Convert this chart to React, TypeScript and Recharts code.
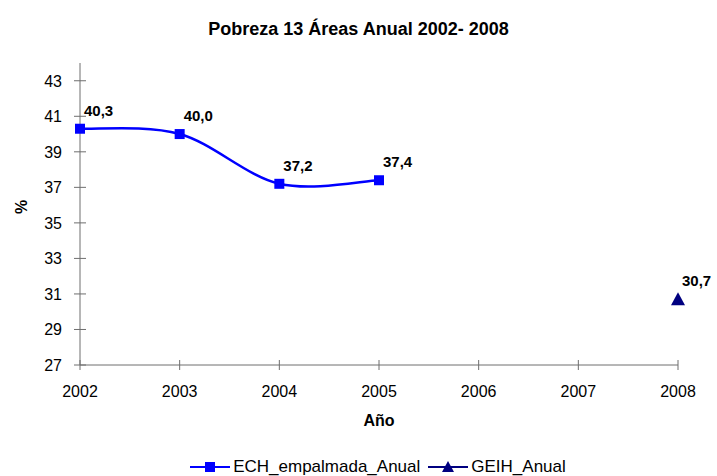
import React from 'react';
import { LineChart, Line, XAxis, YAxis, LabelList, Legend } from 'recharts';

const years = [2002, 2003, 2004, 2005, 2006, 2007, 2008];
const echValues = [40.3, 40.0, 37.2, 37.4, null, null, null];
const geihValues = [null, null, null, null, null, null, 30.7];
const yTicks = [27, 29, 31, 33, 35, 37, 39, 41, 43];

const data = years.map((y, i) => ({ year: y, ech: echValues[i], geih: geihValues[i] }));

const FONT = 'Liberation Sans, Arial, sans-serif';
const ECH_COLOR = '#0000FF';
const GEIH_COLOR = '#000080';
const AXIS_COLOR = '#6e6e6e';

// Excel-style smoothed line (Catmull-Rom through the points)
function excelCurve(context: any) {
  let pts: number[][] = [];
  return {
    areaStart() {},
    areaEnd() {},
    lineStart() {
      pts = [];
    },
    point(x: number, y: number) {
      pts.push([+x, +y]);
    },
    lineEnd() {
      if (!pts.length) return;
      context.moveTo(pts[0][0], pts[0][1]);
      for (let i = 0; i < pts.length - 1; i++) {
        const p0 = pts[Math.max(0, i - 1)];
        const p1 = pts[i];
        const p2 = pts[i + 1];
        const p3 = pts[Math.min(pts.length - 1, i + 2)];
        context.bezierCurveTo(
          p1[0] + (p2[0] - p0[0]) / 6,
          p1[1] + (p2[1] - p0[1]) / 6,
          p2[0] - (p3[0] - p1[0]) / 6,
          p2[1] - (p3[1] - p1[1]) / 6,
          p2[0],
          p2[1]
        );
      }
    },
  };
}

// ticks that cross the axis line, like Excel's "cross" tick marks
const Y_MARGIN = 18;
const X_MARGIN = 20;

const YTick = (props: any) => {
  const { x, y, payload } = props;
  const ax = x + Y_MARGIN;
  return (
    <g>
      <line x1={ax - 6} x2={ax + 6} y1={y} y2={y} stroke={AXIS_COLOR} />
      <text x={x} y={y} dy="0.36em" textAnchor="end" fontFamily={FONT} fontSize={16} fill="#000">
        {payload.value}
      </text>
    </g>
  );
};

const XTick = (props: any) => {
  const { x, y, payload } = props;
  const ay = y - X_MARGIN;
  return (
    <g>
      <line x1={x} x2={x} y1={ay - 5} y2={ay + 5} stroke={AXIS_COLOR} />
      <text x={x} y={y} dy="0.72em" textAnchor="middle" fontFamily={FONT} fontSize={16} fill="#000">
        {payload.value}
      </text>
    </g>
  );
};

const SquareDot = (props: any) => {
  const { cx, cy, value } = props;
  if (value == null || cx == null || cy == null) return null;
  return <rect x={cx - 5} y={cy - 5} width={10} height={10} fill={ECH_COLOR} />;
};

const TriangleDot = (props: any) => {
  const { cx, cy, value } = props;
  if (value == null || cx == null || cy == null) return null;
  return <polygon points={`${cx},${cy - 7} ${cx + 7},${cy + 6} ${cx - 7},${cy + 6}`} fill={GEIH_COLOR} />;
};

const fmt = (v: any) => (v == null ? '' : Number(v).toFixed(1).replace('.', ','));

const ValueLabel = (props: any) => {
  const { x, y, value } = props;
  if (value == null) return null;
  return (
    <text x={x + 4} y={y - 13} fontFamily={FONT} fontSize={15} fontWeight="bold" fill="#000">
      {fmt(value)}
    </text>
  );
};

const LegendContent = () => (
  <div
    style={{
      display: 'flex',
      justifyContent: 'center',
      paddingLeft: 78,
      paddingTop: 5,
      fontFamily: FONT,
      fontSize: 17,
      color: '#000',
      lineHeight: '18px',
    }}
  >
    <svg width={40} height={16} style={{ marginTop: 1, marginRight: 3 }}>
      <line x1={0} y1={8} x2={40} y2={8} stroke={ECH_COLOR} strokeWidth={2} />
      <rect x={15} y={3} width={10} height={10} fill={ECH_COLOR} />
    </svg>
    <span style={{ marginRight: 8 }}>ECH_empalmada_Anual</span>
    <svg width={40} height={16} style={{ marginTop: 1, marginRight: 3 }}>
      <line x1={0} y1={8} x2={40} y2={8} stroke={GEIH_COLOR} strokeWidth={2} />
      <polygon points="20,2 26,13 14,13" fill={GEIH_COLOR} />
    </svg>
    <span>GEIH_Anual</span>
  </div>
);

export default function App() {
  return (
    <div style={{ position: 'absolute', left: 0, top: 0, width: 717, height: 476, background: '#fff' }}>
      <div
        style={{
          position: 'absolute',
          top: 19,
          width: 717,
          textAlign: 'center',
          fontFamily: FONT,
          fontWeight: 'bold',
          fontSize: 18,
        }}
      >
        Pobreza 13 Áreas Anual 2002- 2008
      </div>
      <LineChart width={717} height={476} data={data} margin={{ top: 63, right: 39, bottom: 2, left: 0 }}>
        <XAxis
          dataKey="year"
          type="number"
          domain={[2002, 2008]}
          ticks={years}
          tick={<XTick />}
          tickLine={false}
          stroke={AXIS_COLOR}
          tickSize={0}
          tickMargin={X_MARGIN}
          height={88}
          label={{ value: 'Año', position: 'insideTop', offset: 50, fill: '#000', fontSize: 16, fontWeight: 'bold', fontFamily: FONT }}
        />
        <YAxis
          domain={[27, 44]}
          ticks={yTicks}
          interval={0}
          tick={<YTick />}
          tickLine={false}
          stroke={AXIS_COLOR}
          tickSize={0}
          tickMargin={Y_MARGIN}
          width={80}
          label={{ value: '%', angle: -90, position: 'insideLeft', offset: 21, fill: '#000', fontSize: 16, fontWeight: 'bold', fontFamily: FONT }}
        />
        <Legend verticalAlign="bottom" height={21} content={<LegendContent />} />
        <Line
          dataKey="ech"
          type={excelCurve as any}
          stroke={ECH_COLOR}
          strokeWidth={2.5}
          dot={<SquareDot />}
          activeDot={false}
          isAnimationActive={false}
          connectNulls={false}
        >
          <LabelList dataKey="ech" content={<ValueLabel />} />
        </Line>
        <Line
          dataKey="geih"
          stroke={GEIH_COLOR}
          strokeWidth={2}
          dot={<TriangleDot />}
          activeDot={false}
          isAnimationActive={false}
        >
          <LabelList dataKey="geih" content={<ValueLabel />} />
        </Line>
      </LineChart>
    </div>
  );
}
